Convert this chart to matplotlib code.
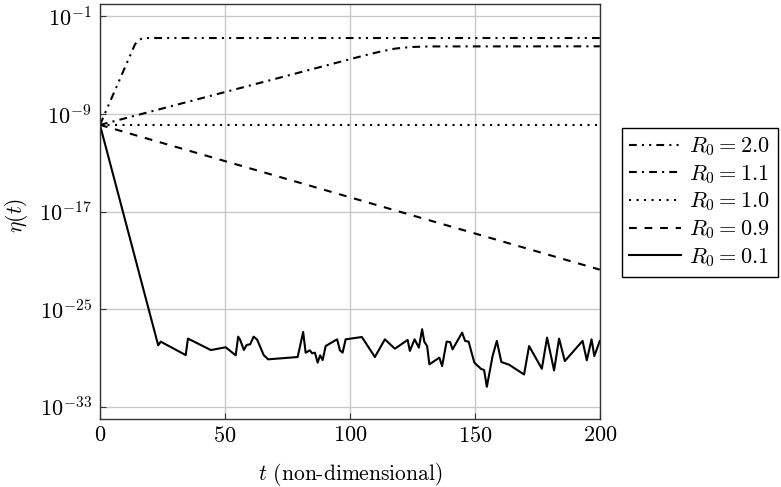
import numpy as np
import matplotlib
matplotlib.use('Agg')
import matplotlib.pyplot as plt

plt.rcParams['font.family'] = 'serif'
plt.rcParams['font.serif'] = ['cmr10']
plt.rcParams['mathtext.fontset'] = 'cm'
plt.rcParams['axes.formatter.use_mathtext'] = True
plt.rcParams['lines.scale_dashes'] = False

# data: time and log10 of eta(t)
t_20 = [0, 14, 15.5, 17, 18.5, 200]
log_20 = [-9.9, -3.3, -2.95, -2.8, -2.78, -2.78]

t_11 = [0, 105, 112, 118, 124, 132, 200]
log_11 = [-9.9, -4.25, -3.9, -3.65, -3.52, -3.47, -3.46]

t_10 = [0, 200]
log_10 = [-9.93, -9.93]

t_09 = [0, 200]
log_09 = [-9.9, -21.76]

t_01 = [0, 23.3, 24.3, 34.3, 35.2, 44.4, 50.3, 54.3, 55.3, 56.0, 57.6, 58.7, 60.1,
        61.5, 62.9, 65.5, 67.3, 79.1, 81.3, 82.3, 84.0, 84.9, 86.0, 87.1, 88.1,
        89.1, 90.3, 94.9, 96.0, 97.1, 98.3, 104.8, 110.0, 114.0, 118.0, 123.1,
        124.0, 125.9, 127.6, 128.9, 129.8, 130.9, 131.8, 135.8, 136.9, 138.7,
        140.1, 141.1, 144.9, 146.1, 147.5, 149.8, 152.4, 153.7, 154.8, 157.1,
        158.8, 160.6, 163.7, 169.7, 171.7, 176.8, 178.9, 181.7, 183.7, 186.0,
        193.1, 194.8, 196.7, 197.8, 200]
log_01 = [-9.9, -27.96, -27.66, -28.76, -27.41, -28.35, -28.12, -28.78, -27.25,
          -27.47, -28.34, -27.93, -27.88, -27.25, -27.5, -28.76, -29.11, -28.92,
          -26.87, -28.56, -28.37, -28.62, -28.56, -29.38, -28.78, -29.17, -28.02,
          -27.47, -28.37, -28.56, -27.47, -27.28, -28.92, -27.47, -28.24, -27.52,
          -28.42, -27.47, -28.15, -26.64, -27.69, -28.02, -29.52, -28.97, -29.66,
          -27.66, -27.69, -28.29, -26.92, -27.6, -27.66, -29.38, -29.88, -29.99,
          -31.36, -28.84, -27.6, -29.33, -29.55, -30.35, -28.02, -29.88, -27.33,
          -30.02, -27.41, -29.25, -27.6, -29.19, -27.47, -28.84, -27.6]

labels = [r'$R_0 = 2.0$', r'$R_0 = 1.1$', r'$R_0 = 1.0$',
          r'$R_0 = 0.9$', r'$R_0 = 0.1$']

x_ticks = [0, 50, 100, 150, 200]
y_tick_exps = [-33, -25, -17, -9, -1]

fs = 16

fig = plt.figure(figsize=(7.81, 4.87), dpi=100)
ax = fig.add_axes([0.128, 0.1396, 0.640, 0.852])

lw = 1.5
ax.plot(t_20, 10.0 ** np.array(log_20), color='black', lw=lw,
        dashes=(5.6, 3.7, 1.5, 3.7, 1.5, 3.7), label=labels[0])
ax.plot(t_11, 10.0 ** np.array(log_11), color='black', lw=lw,
        dashes=(5.6, 3.7, 1.5, 3.7), label=labels[1])
ax.plot(t_10, 10.0 ** np.array(log_10), color='black', lw=lw,
        dashes=(1.5, 3.9), label=labels[2])
ax.plot(t_09, 10.0 ** np.array(log_09), color='black', lw=lw,
        dashes=(5.6, 5.6), label=labels[3])
ax.plot(t_01, 10.0 ** np.array(log_01), color='black', lw=lw,
        label=labels[4])

ax.set_yscale('log')
ax.set_xlim(0, 200)
ax.set_ylim(1e-34, 1e0)
ax.set_xticks(x_ticks)
ax.set_yticks([10.0 ** k for k in y_tick_exps])
ax.yaxis.set_minor_locator(matplotlib.ticker.NullLocator())
ax.tick_params(direction='in', length=4, labelsize=fs, color='#333333')
ax.tick_params(axis='y', pad=6)
ax.tick_params(axis='x', pad=5)
ax.grid(True, color='#c8c8c8', linewidth=1.0)
ax.set_axisbelow(True)
for sp in ax.spines.values():
    sp.set_color('#333333')
    sp.set_linewidth(1.0)

ax.set_xlabel(r'$t$ (non-dimensional)', fontsize=15.5)
ax.set_ylabel(r'$\eta(t)$', fontsize=15.5)
ax.xaxis.set_label_coords(0.5, -0.1)
ax.yaxis.set_label_coords(-0.14, 0.49)

leg = fig.legend(loc='center left', bbox_to_anchor=(0.796, 0.585), fontsize=fs,
                 frameon=True, fancybox=False, edgecolor='black', framealpha=1,
                 handlelength=2.3, handletextpad=0.4, labelspacing=0.22,
                 borderpad=0.35, borderaxespad=0)
leg.get_frame().set_linewidth(1.0)

fig.savefig('out.png', dpi=100)
